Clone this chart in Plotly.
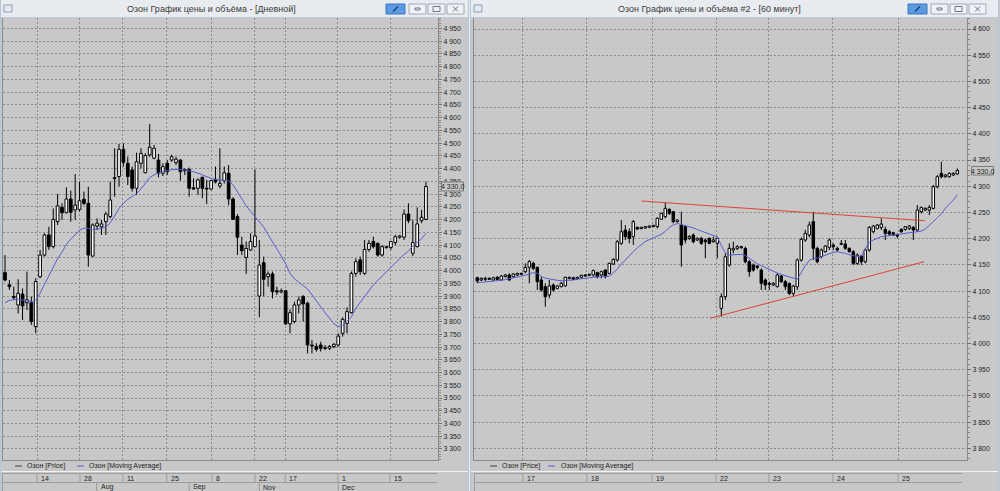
import plotly.graph_objects as go

# ---------------- LEFT PANEL (daily) ----------------
left_open = [3992,3944,3898,3865,3908,3874,3874,3780,3976,4061,4140,4094,4192,4248,4227,4281,4238,4240,4280,4264,
             4057,4175,4172,4192,4212,4361,4369,4476,4421,4395,4323,4421,4384,4454,4441,4434,4382,4421,4434,4424,
             4434,4397,4397,4325,4323,4366,4323,4320,4358,4332,4353,4382,4281,4212,4100,4052,4081,4094,3900,4031,
             3976,3987,3921,3916,3921,3791,3800,3865,3898,3872,3708,3702,3708,3694,3695,3702,3708,3754,3793,3835,
             3989,4042,3989,4083,4114,4107,4061,4090,4091,4110,4131,4131,4222,4068,4094,4196,4201]
left_high = [4061,3963,3937,3966,3930,3996,3898,3970,4081,4146,4172,4244,4301,4264,4327,4314,4379,4349,4310,4329,
             4186,4205,4199,4231,4349,4480,4497,4499,4447,4408,4463,4480,4460,4575,4493,4458,4421,4434,4455,4447,
             4437,4401,4404,4362,4362,4369,4356,4356,4408,4480,4408,4414,4288,4222,4133,4114,4146,4397,4120,4055,
             3996,3996,3937,3930,3924,3848,3878,3898,3904,3878,3728,3715,3721,3708,3708,3715,3754,3817,3856,3996,
             4048,4055,4120,4120,4133,4110,4100,4097,4117,4140,4140,4240,4264,4199,4248,4238,4349]
left_low = [3957,3924,3885,3832,3806,3845,3787,3754,3970,4055,4081,4087,4179,4199,4225,4192,4199,4231,4257,4015,
            4055,4159,4140,4140,4205,4290,4329,4408,4336,4310,4297,4401,4382,4447,4437,4366,4371,4375,4427,4414,
            4353,4375,4290,4316,4297,4284,4261,4316,4342,4323,4342,4257,4199,4061,4061,3987,4078,4092,3817,3898,
            3937,3891,3904,3911,3787,3754,3793,3832,3800,3675,3675,3682,3682,3688,3688,3695,3702,3741,3754,3832,
            3976,3983,3983,4074,4087,4055,4055,4087,4081,4100,4125,4120,4186,4057,4091,4186,4199]
left_close = [3963,3937,3894,3911,3861,3885,3800,3957,4061,4140,4094,4201,4254,4227,4281,4229,4257,4274,4264,4061,
              4179,4186,4183,4222,4277,4365,4476,4425,4369,4323,4427,4460,4451,4484,4480,4382,4408,4388,4447,4437,
              4388,4392,4323,4320,4356,4323,4320,4353,4348,4342,4384,4281,4201,4131,4078,4087,4114,4136,4022,3966,
              3987,3917,3916,3921,3791,3835,3865,3885,3869,3708,3704,3691,3695,3698,3702,3711,3743,3809,3839,3989,
              4035,3996,4083,4107,4094,4061,4094,4094,4114,4133,4136,4222,4196,4110,4183,4209,4330]
left_ma = [3874,3883,3886,3887,3885,3882,3877,3882,3911,3946,3980,4016,4047,4073,4102,4124,4142,4158,4167,4166,
           4161,4162,4165,4172,4187,4214,4244,4264,4280,4290,4303,4320,4341,4365,4376,4384,4390,4392,4396,4397,
           4397,4395,4391,4388,4382,4375,4369,4362,4358,4356,4356,4352,4337,4308,4280,4254,4233,4212,4192,4171,
           4141,4114,4085,4057,4027,3989,3968,3953,3941,3928,3906,3881,3858,3835,3811,3792,3780,3785,3801,3819,
           3852,3876,3899,3921,3944,3961,3979,3996,4013,4031,4047,4063,4076,4097,4111,4125,4146]
left_day_pos = [7.3, 17.1, 26.9, 36.9, 47.2, 57.0, 63.9, 75.9, 87.8]
left_day_labels = ["14", "28", "11", "25", "8", "22", "17", "1", "15"]
left_month_pos = [20.9, 42.0, 58.0, 76.0]
left_month_labels = ["Aug", "Sep", "Nov", "Dec"]
left_last_label = "4 330,0"

# ---------------- RIGHT PANEL (60 min) ----------------
right_open = [4125.5,4121.1,4122.4,4124.3,4121.1,4126.2,4121.1,4127.5,4130.7,4127.5,4130.7,4133.8,4137.0,4145.3,4152.9,
              4145.3,4121.1,4108.4,4092.5,4111.6,4105.2,4108.4,4109.7,4124.3,4125.5,4123.6,4126.2,4130.7,4130.0,4130.7,
              4135.1,4130.7,4140.2,4133.8,4151.6,4159.3,4191.1,4216.5,4213.3,4203.8,4221.6,4219.0,4220.3,4221.6,4222.9,
              4222.9,4236.9,4241.9,4255.9,4251.5,4232.4,4226.0,4222.9,4200.6,4207.0,4197.4,4200.6,4197.4,4200.6,4194.2,
              4191.1,4067.0,4089.3,4149.7,4178.3,4181.5,4184.7,4181.5,4156.0,4149.7,4147.8,4140.1,4121.1,4114.7,4111.5,
              4108.3,4128.7,4117.9,4114.7,4095.6,4108.3,4159.2,4197.4,4206.9,4232.4,4181.5,4165.6,4175.1,4183.4,4187.8,
              4181.5,4189.1,4189.7,4181.5,4175.1,4152.9,4166.9,4156.0,4178.3,4213.3,4219.6,4221.5,4217.7,4213.3,4211.4,
              4206.9,4217.7,4217.7,4219.6,4221.5,4216.5,4251.4,4254.6,4254.6,4257.8,4299.1,4324.6,4318.2,4318.2,4321.4,
              4323.3]
right_high = [4127.5,4126.2,4127.5,4126.2,4127.5,4128.7,4130.7,4132.6,4133.8,4133.8,4135.1,4135.1,4152.9,4159.3,4156.1,
              4146.5,4127.5,4114.7,4121.1,4114.7,4111.6,4117.9,4127.5,4127.5,4127.5,4127.5,4131.3,4132.0,4133.2,4141.5,
              4137.0,4138.9,4141.5,4154.2,4162.5,4197.4,4235.6,4226.0,4219.7,4235.6,4222.9,4222.9,4224.1,4225.4,4226.0,
              4240.7,4249.6,4268.6,4257.8,4251.5,4236.9,4251.5,4226.0,4207.0,4210.1,4202.5,4203.8,4200.6,4202.5,4203.8,
              4202.5,4095.6,4171.9,4191.0,4194.2,4187.8,4186.5,4184.7,4159.2,4152.9,4149.7,4143.3,4124.2,4117.9,4117.0,
              4133.8,4130.6,4121.1,4116.0,4111.5,4162.4,4202.5,4216.5,4232.4,4251.4,4184.7,4181.5,4187.8,4200.6,4191.0,
              4184.7,4197.4,4197.4,4183.4,4178.3,4171.9,4168.8,4181.5,4224.1,4226.0,4228.0,4238.7,4222.8,4216.5,4213.3,
              4210.1,4219.6,4224.1,4226.0,4224.1,4264.2,4261.0,4259.7,4264.2,4302.3,4321.4,4346.8,4323.3,4326.5,4326.5,
              4334.1]
right_low = [4114.7,4119.2,4119.2,4121.1,4119.8,4121.1,4119.8,4126.2,4119.8,4126.2,4128.7,4130.7,4133.8,4114.7,4140.2,
             4102.0,4098.8,4070.2,4086.1,4098.8,4103.3,4107.1,4108.4,4122.4,4121.1,4122.4,4124.3,4127.5,4128.7,4127.5,
             4124.3,4124.3,4124.3,4131.9,4149.7,4156.1,4187.9,4197.4,4191.1,4187.9,4216.5,4218.4,4219.0,4220.3,4222.3,
             4219.7,4235.6,4238.8,4245.1,4229.2,4230.5,4146.5,4191.1,4197.4,4191.1,4195.5,4187.9,4162.5,4189.2,4192.3,
             4162.5,4051.1,4082.9,4146.5,4171.9,4178.3,4180.8,4152.9,4127.4,4136.9,4141.4,4102.0,4102.0,4102.0,4109.6,
             4107.1,4116.0,4102.0,4092.4,4089.3,4102.0,4156.0,4194.2,4202.5,4159.2,4152.9,4162.4,4173.2,4178.3,4178.3,
             4175.1,4187.8,4178.3,4173.2,4149.7,4149.7,4149.7,4152.9,4175.1,4210.1,4217.7,4216.5,4197.4,4205.0,4205.0,
             4200.6,4211.4,4215.2,4216.5,4197.4,4213.3,4248.3,4252.7,4245.1,4255.9,4296.0,4315.0,4316.3,4316.3,4319.5,
             4321.4]
right_close = [4119.2,4124.3,4124.3,4122.4,4125.5,4122.4,4128.7,4130.7,4121.1,4132.6,4133.8,4131.9,4145.3,4156.1,4143.4,
               4117.9,4102.0,4089.3,4109.7,4102.0,4109.7,4114.7,4126.2,4126.2,4122.4,4126.2,4130.0,4128.7,4131.9,4138.9,
               4127.5,4137.0,4127.5,4152.9,4160.5,4194.2,4213.3,4203.8,4200.6,4232.4,4218.4,4221.6,4222.9,4224.1,4225.4,
               4238.8,4248.3,4257.8,4248.3,4232.4,4235.6,4187.9,4197.4,4203.8,4194.2,4200.6,4191.1,4194.2,4191.1,4197.4,
               4200.6,4089.3,4165.6,4181.5,4181.5,4184.7,4182.7,4156.0,4136.9,4140.1,4145.2,4114.7,4111.5,4112.8,4114.7,
               4130.6,4117.9,4108.3,4095.6,4109.6,4159.2,4198.7,4210.1,4226.0,4181.5,4156.0,4178.3,4185.9,4197.4,4184.7,
               4178.3,4191.0,4181.5,4175.1,4152.9,4168.8,4156.0,4178.3,4221.5,4224.1,4226.0,4227.9,4210.1,4208.8,4206.9,
               4205.0,4213.3,4222.8,4224.1,4216.5,4254.6,4259.7,4257.8,4259.7,4299.1,4318.2,4318.2,4321.4,4324.6,4324.6,
               4330.0]
right_ma = [4116.0,4116.6,4117.2,4117.8,4118.6,4119.4,4120.6,4121.9,4123.4,4124.9,4126.5,4128.3,4130.1,4132.5,4135.1,
            4134.1,4128.0,4124.7,4122.8,4121.5,4120.5,4119.8,4119.8,4119.8,4121.1,4122.6,4123.9,4124.6,4125.4,4126.2,
            4126.8,4127.2,4127.9,4128.6,4134.4,4141.8,4151.3,4159.9,4167.5,4175.1,4182.6,4189.1,4194.4,4198.2,4201.2,
            4204.4,4208.2,4213.9,4221.6,4226.0,4228.9,4227.0,4225.1,4223.2,4220.4,4217.3,4214.6,4212.0,4209.6,4206.9,
            4203.3,4186.6,4173.2,4168.8,4168.8,4169.6,4170.0,4167.7,4162.5,4156.0,4152.2,4148.4,4144.6,4140.7,4136.9,
            4134.3,4131.7,4129.5,4126.9,4124.2,4122.6,4135.6,4148.6,4158.6,4162.4,4162.8,4165.5,4168.4,4171.4,4173.8,
            4174.9,4174.1,4172.0,4169.2,4167.2,4165.8,4166.8,4180.3,4193.6,4197.4,4201.2,4203.9,4204.8,4205.8,4206.9,
            4208.0,4209.1,4209.8,4210.6,4211.4,4212.4,4214.3,4218.4,4224.7,4232.4,4240.0,4247.5,4257.8,4265.5,4273.7,
            4283.8]
right_day_pos = [11.4, 27.4, 43.7, 59.7, 72.9, 88.9, 105.2]
right_day_labels = ["17", "18", "19", "22", "23", "24", "25"]
upper_trend_x = [41.1, 111.9]
upper_trend_y = [4271.8, 4234.2]
lower_trend_x = [58.2, 111.7]
lower_trend_y = [4048.0, 4156.0]
right_last_label = "4 330,0"

# ---------------- helpers (pixel -> paper) ----------------
W, H = 1000, 491
def fx(x): return x / W
def fy(y): return 1 - y / H

FONT = "Liberation Sans"
BG = "#c8c8c8"
GRID = "#8c8c8c"
MA_COLOR = "#5a5ad2"

fig = go.Figure()


def add_candles(o, h, l, c, xa, ya, body_w):
    n = len(o)
    idx = list(range(n))
    bottoms = [min(a, b) for a, b in zip(o, c)]
    tops = [max(a, b) for a, b in zip(o, c)]
    heights = [t - b for t, b in zip(tops, bottoms)]
    colors = ["#ffffff" if cc >= oo else "#000000" for oo, cc in zip(o, c)]
    wx, wy = [], []
    for i in idx:
        wx += [i, i, None, i, i, None]
        wy += [l[i], bottoms[i], None, tops[i], h[i], None]
    fig.add_trace(go.Scatter(x=wx, y=wy, mode="lines", line=dict(color="#000000", width=1),
                             xaxis=xa, yaxis=ya, showlegend=False, hoverinfo="skip"))
    fig.add_trace(go.Bar(x=idx, y=heights, base=bottoms, width=body_w,
                         marker=dict(color=colors, line=dict(color="#000000", width=1)),
                         xaxis=xa, yaxis=ya, showlegend=False, hoverinfo="skip"))


add_candles(left_open, left_high, left_low, left_close, "x", "y", 0.62)
add_candles(right_open, right_high, right_low, right_close, "x2", "y2", 0.62)

lx = list(range(len(left_open)))
rx = list(range(len(right_open)))
fig.add_trace(go.Scatter(x=lx, y=left_ma, mode="lines", line=dict(color=MA_COLOR, width=1),
                         xaxis="x", yaxis="y", showlegend=False, hoverinfo="skip"))
fig.add_trace(go.Scatter(x=rx, y=right_ma, mode="lines", line=dict(color=MA_COLOR, width=1),
                         xaxis="x2", yaxis="y2", showlegend=False, hoverinfo="skip"))
for tx, ty in [(upper_trend_x, upper_trend_y), (lower_trend_x, lower_trend_y)]:
    fig.add_trace(go.Scatter(x=tx, y=ty, mode="lines", line=dict(color="#e0413a", width=1),
                             xaxis="x2", yaxis="y2", showlegend=False, hoverinfo="skip"))


def xaxis_cfg(dom, rng, ticks, anchor):
    return dict(domain=dom, range=rng, anchor=anchor, tickmode="array", tickvals=ticks,
                showticklabels=False, ticks="", showgrid=True, gridcolor=GRID, gridwidth=1,
                griddash="2px,2px", showline=True, linecolor="#8a8a8a", linewidth=1, mirror=True,
                zeroline=False, fixedrange=True)


def yaxis_cfg(dom, rng, anchor):
    return dict(domain=dom, range=rng, anchor=anchor, side="right", tickmode="linear", tick0=0, dtick=50,
                tickformat=",d", ticks="outside", ticklen=3, tickcolor="#707070",
                tickfont=dict(family=FONT, size=7, color="#1e1e1e"),
                showgrid=True, gridcolor=GRID, gridwidth=1, griddash="2px,2px",
                minor=dict(tickmode="linear", tick0=0, dtick=10, ticks="outside", ticklen=2,
                           tickcolor="#8a8a8a", showgrid=False),
                showline=True, linecolor="#8a8a8a", linewidth=1, mirror=True, zeroline=False, fixedrange=True)


ydom = [fy(460), fy(18)]
fig.update_layout(
    width=W, height=H, margin=dict(l=0, r=0, t=0, b=0),
    paper_bgcolor=BG, plot_bgcolor=BG, showlegend=False, separators=", ",
    barmode="overlay",
    font=dict(family=FONT, size=7, color="#1e1e1e"),
    xaxis=xaxis_cfg([fx(3), fx(438)], [(3 - 5) / 4.385, (438 - 5) / 4.385], left_day_pos, "y"),
    yaxis=yaxis_cfg(ydom, [3256.8, 4991.2], "x"),
    xaxis2=xaxis_cfg([fx(474), fx(967)], [(474 - 477.3) / 4.0, (967 - 477.3) / 4.0], right_day_pos, "y2"),
    yaxis2=yaxis_cfg(ydom, [3777.7, 4621.0], "x2"),
)

shapes = []
ann = []


def rect(x0, y0, x1, y1, fill, line="rgba(0,0,0,0)", lw=1):
    shapes.append(dict(type="rect", xref="paper", yref="paper", x0=fx(x0), x1=fx(x1), y0=fy(y1), y1=fy(y0),
                       fillcolor=fill, line=dict(color=line, width=lw), layer="above"))


def hline(x0, x1, y, color, lw=1):
    shapes.append(dict(type="line", xref="paper", yref="paper", x0=fx(x0), x1=fx(x1), y0=fy(y), y1=fy(y),
                       line=dict(color=color, width=lw), layer="above"))


def vline(x, y0, y1, color, lw=1):
    shapes.append(dict(type="line", xref="paper", yref="paper", x0=fx(x), x1=fx(x), y0=fy(y0), y1=fy(y1),
                       line=dict(color=color, width=lw), layer="above"))


def text(x, y, s, size=7, color="#1e1e1e", xanchor="left"):
    ann.append(dict(x=fx(x), y=fy(y), xref="paper", yref="paper", text=s,
                    showarrow=False, xanchor=xanchor, yanchor="middle",
                    font=dict(family=FONT, size=size, color=color)))


# window frames
vline(0.5, 0, 491, "#b4c6d8")
vline(468.5, 0, 491, "#b4c6d8")
vline(470.5, 0, 491, "#b4c6d8")
vline(998.5, 0, 491, "#b4c6d8")
rect(469, 0, 470, 491, "#e6ecf2")

# title bars
for (x0, x1, title, tcx, bx) in [(1, 468, "Озон График цены и объёма - [Дневной]", 211.5, 386),
                                  (471, 998, "Озон График цены и объёма #2 - [60 минут]", 709, 908)]:
    rect(x0, 0, x1, 17, "#e8ecf1")
    hline(x0, x1, 17.5, "#c2ccd6")
    rect(x0 + 3, 5, x0 + 11, 12, "#e4ebf4", "#8d9db0")
    text(tcx, 9, title, size=9, color="#3a3a3a", xanchor="center")
    rect(bx, 4, bx + 19, 14, "#5c9be3", "#3d74b8")
    shapes.append(dict(type="line", xref="paper", yref="paper", x0=fx(bx + 7), x1=fx(bx + 12),
                       y0=fy(11.5), y1=fy(6.5), line=dict(color="#1b3f74", width=1.5), layer="above"))
    for k in range(3):
        b0 = bx + 23 + k * 19
        rect(b0, 4, b0 + 17, 14, "#f0f2f5", "#9ea8b4")
    b0 = bx + 23
    rect(b0 + 6, 8, b0 + 11, 10, "rgba(0,0,0,0)", "#6a7480")
    b1 = bx + 42
    rect(b1 + 5, 6.5, b1 + 12, 11.5, "rgba(0,0,0,0)", "#6a7480")
    b2 = bx + 61
    shapes.append(dict(type="line", xref="paper", yref="paper", x0=fx(b2 + 6), x1=fx(b2 + 11),
                       y0=fy(6.5), y1=fy(11.5), line=dict(color="#6a7480", width=1), layer="above"))
    shapes.append(dict(type="line", xref="paper", yref="paper", x0=fx(b2 + 6), x1=fx(b2 + 11),
                       y0=fy(11.5), y1=fy(6.5), line=dict(color="#6a7480", width=1), layer="above"))

# legends
for (d1, t1, d2, t2) in [(15, 25, 77, 87.3), (490, 500, 548, 558.5)]:
    hline(d1, d1 + 7, 466, "#404040")
    text(t1, 466, "Озон [Price]")
    hline(d2, d2 + 7, 466, MA_COLOR)
    text(t2, 466, "Озон [Moving Average]")

# separator lines
hline(1, 468, 471.5, "#f4f4f4")
hline(471, 998, 471.5, "#f4f4f4")

# date axes
for (x0, x1) in [(2, 437), (474, 962)]:
    hline(x0, x1, 473.5, "#9c9c9c")
    hline(x0, x1, 482.5, "#9c9c9c")
    vline(x0 + 0.5, 473.5, 491, "#9c9c9c")


def xsep(xref, pos, y0, y1):
    shapes.append(dict(type="line", xref=xref, yref="paper", x0=pos, x1=pos, y0=fy(y0), y1=fy(y1),
                       line=dict(color="#9c9c9c", width=1), layer="above"))


def xlabel(xref, pos, y, s):
    ann.append(dict(x=pos, y=fy(y), xref=xref, yref="paper", text=s, showarrow=False, xanchor="left",
                    xshift=2, yanchor="middle", font=dict(family=FONT, size=7, color="#1e1e1e")))


for p, s in zip(left_day_pos, left_day_labels):
    xsep("x", p, 473.5, 482.5)
    xlabel("x", p, 478, s)
for p, s in zip(left_month_pos, left_month_labels):
    xsep("x", p, 482.5, 491)
    xlabel("x", p, 487, s)
for p, s in zip(right_day_pos, right_day_labels):
    xsep("x2", p, 473.5, 482.5)
    xlabel("x2", p, 478, s)

# last price labels
rect(441.5, 182, 463.5, 191, BG, "#7a7a7a")
text(452.5, 186.8, left_last_label, xanchor="center")
rect(971.5, 166.5, 993.5, 175, BG, "#7a7a7a")
text(982.5, 171, right_last_label, xanchor="center")

fig.update_layout(shapes=shapes, annotations=ann)
fig.write_html("out.html")
